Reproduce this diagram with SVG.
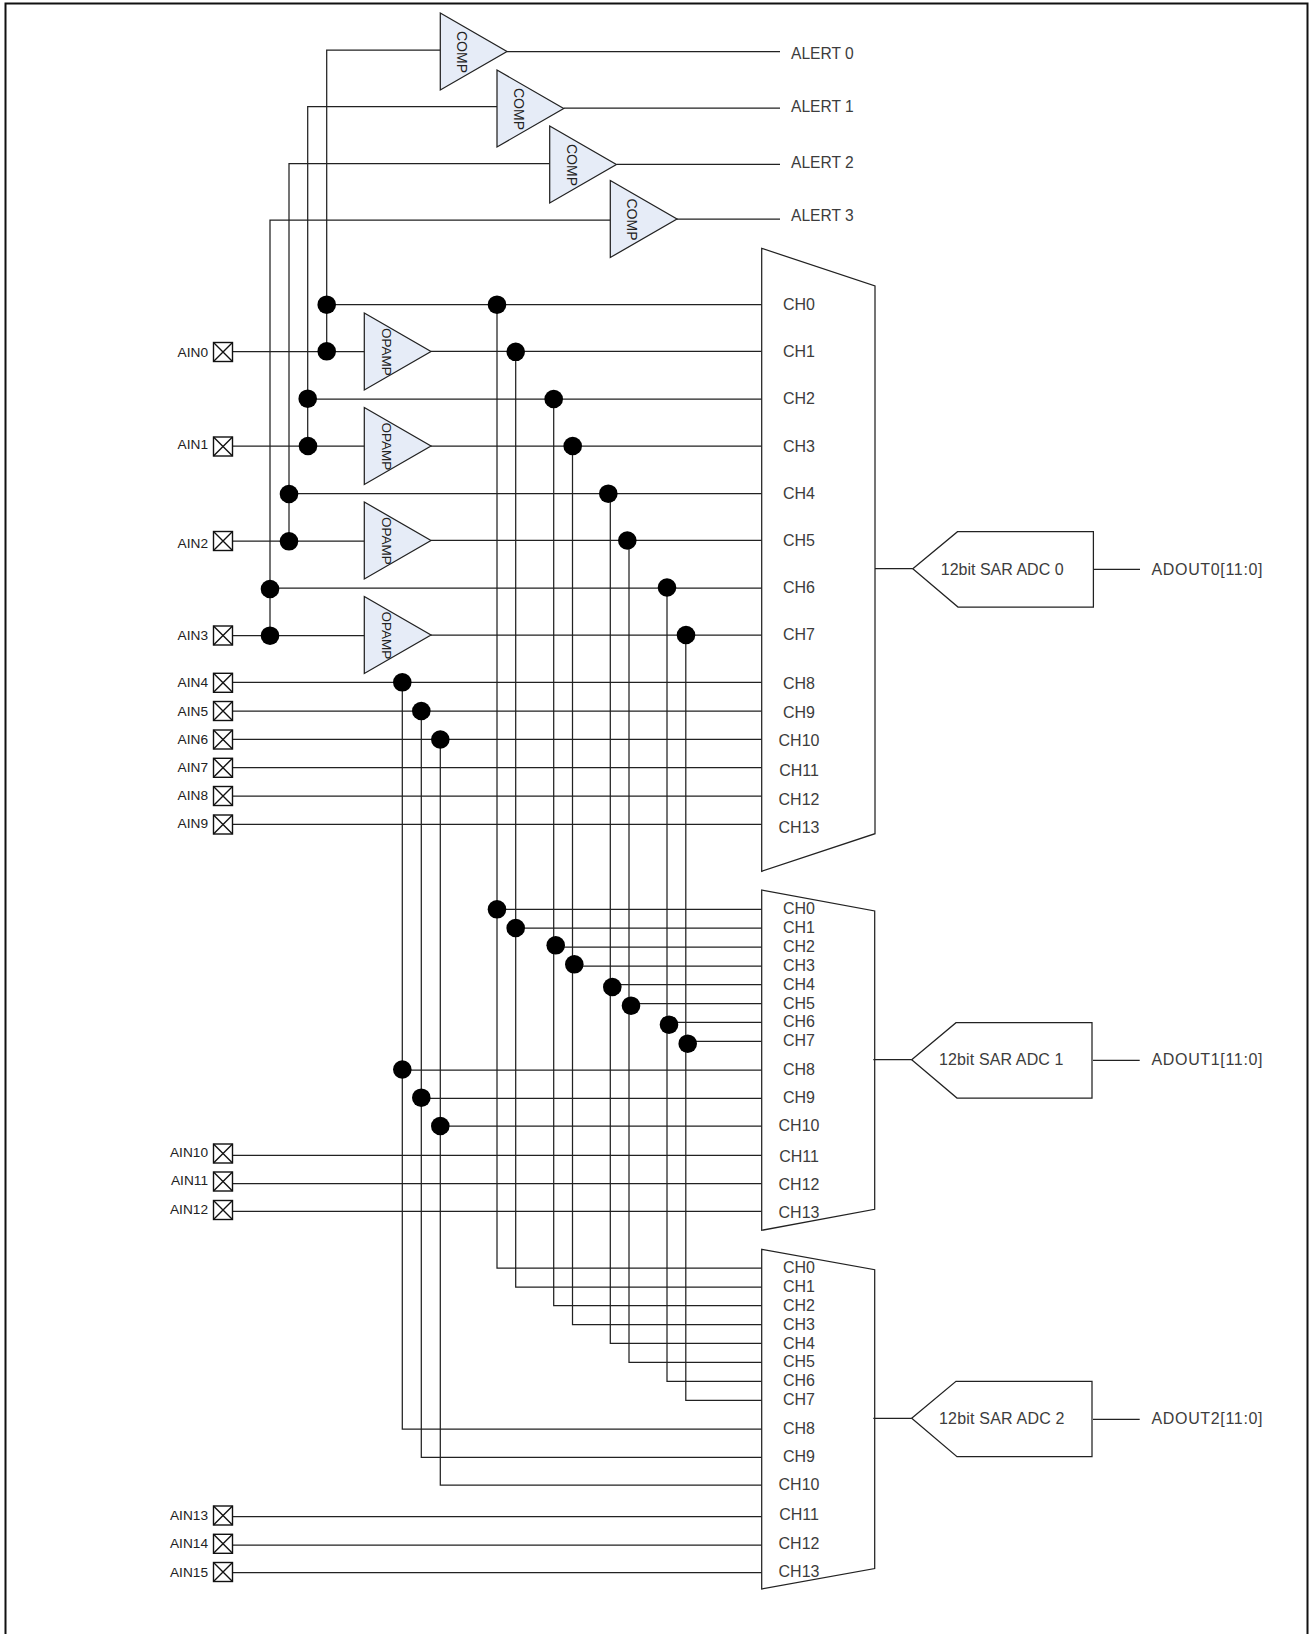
<svg xmlns="http://www.w3.org/2000/svg" width="1309" height="1634" viewBox="0 0 1309 1634">
<style>
text{font-family:"Liberation Sans",Arial,sans-serif}
.w{fill:none;stroke:#222;stroke-width:1.25}
.t{fill:#e6ecf7;stroke:#222;stroke-width:1.25}
.x{fill:#fff;stroke:#111;stroke-width:1.4}
.ain{font-size:13.7px;fill:#222;text-anchor:end}
.rot{font-size:14px;fill:#222}
.rop{font-size:13.5px;fill:#222}
.ch{font-size:16px;fill:#3c3c3c;text-anchor:middle}
.lab{font-size:15.6px;fill:#3c3c3c}
.adc{font-size:16px;fill:#3c3c3c}
</style>
<defs>
<g id="pad"><rect class="x" x="-9.5" y="-9.5" width="19" height="19"/><path class="x" d="M-9.5-9.5L9.5 9.5M-9.5 9.5L9.5-9.5"/></g>
<path id="tri" class="t" d="M0 0L66.7 38.5L0 77Z"/>
</defs>
<rect id="frame" x="5.5" y="3.5" width="1302" height="1640" fill="#fff" stroke="#111" stroke-width="2"/>
<g id="connectors">
<path class="w" d="M440.3 50H326.7V351.3M497 106.7H307.7V446M549.7 163.5H289V541M610.3 220H270V635.7"/>
<path class="w" d="M507 51.5H780M563.7 108H780M616.7 164.3H780M676.7 219H780"/>
<path class="w" d="M326.7 304.7H761.7M307.7 399H761.7M289 493.5H761.7M270 588H761.7"/>
<path class="w" d="M232.5 351.5H364.3M232.5 446H364.3M232.5 541H364.3M232.5 635.5H364.3"/>
<path class="w" d="M431 351.3H761.7M431 446H761.7M431 540.4H761.7M431 635H761.7"/>
<path class="w" d="M232.5 682.3H761.7M232.5 711H761.7M232.5 739.3H761.7M232.5 767.7H761.7M232.5 796H761.7M232.5 824.3H761.7"/>
<path class="w" d="M497 304.7V1268H761.7M515.7 351.3V1287H761.7M553.7 399V1305.7H761.7M572.5 446V1324.7H761.7M610.3 493.5V1343.3H761.7M629 540.4V1362.3H761.7M667 588V1381.3H761.7M685.8 635V1400.3H761.7"/>
<path class="w" d="M497 909.3H761.7M515.7 928H761.7M555.7 947H761.7M574.3 966H761.7M612.3 984.7H761.7M631 1003.7H761.7M669 1022.3H761.7M687.7 1041.3H761.7"/>
<path class="w" d="M402.3 682.3V1429H761.7M421.3 711V1457.3H761.7M440.3 739.3V1485H761.7"/>
<path class="w" d="M402.3 1070H761.7M421.3 1098.3H761.7M440.3 1126H761.7"/>
<path class="w" d="M232.5 1155.3H761.7M232.5 1183.7H761.7M232.5 1211.3H761.7"/>
<path class="w" d="M232.5 1516.7H761.7M232.5 1545H761.7M232.5 1572.7H761.7"/>
<path class="w" d="M875 568.7H912.8M1093.4 569.3H1140M873.3 1059.7H911.7M1093 1060.3H1139.7M873.3 1418.3H911.7M1093 1419.3H1139.7"/>
<g id="junctions" fill="#000">
<circle cx="326.7" cy="304.7" r="9.3"/><circle cx="497" cy="304.7" r="9.3"/>
<circle cx="326.7" cy="351.3" r="9.3"/><circle cx="515.7" cy="351.8" r="9.3"/>
<circle cx="307.7" cy="398.7" r="9.3"/><circle cx="553.7" cy="399" r="9.3"/>
<circle cx="308" cy="446" r="9.3"/><circle cx="572.7" cy="446" r="9.3"/>
<circle cx="289" cy="494" r="9.3"/><circle cx="608.3" cy="493.7" r="9.3"/>
<circle cx="289" cy="541.3" r="9.3"/><circle cx="627.3" cy="540.5" r="9.3"/>
<circle cx="270" cy="589" r="9.3"/><circle cx="667" cy="587.5" r="9.3"/>
<circle cx="270" cy="635.7" r="9.3"/><circle cx="686" cy="635" r="9.3"/>
<circle cx="402.3" cy="682.3" r="9.3"/><circle cx="421.3" cy="711" r="9.3"/><circle cx="440.3" cy="739.5" r="9.3"/>
<circle cx="497" cy="909.3" r="9.3"/><circle cx="515.7" cy="928" r="9.3"/><circle cx="555.7" cy="945.3" r="9.3"/><circle cx="574.3" cy="964.3" r="9.3"/>
<circle cx="612.3" cy="987" r="9.3"/><circle cx="631" cy="1005.7" r="9.3"/><circle cx="669" cy="1024.7" r="9.3"/><circle cx="687.7" cy="1043.7" r="9.3"/>
<circle cx="402.3" cy="1069.5" r="9.3"/><circle cx="421.3" cy="1097.7" r="9.3"/><circle cx="440.3" cy="1126" r="9.3"/>
</g>
</g>
<g id="comp0"><use href="#tri" x="440.3" y="13"/><text class="rot" transform="translate(457.3 31) rotate(90)">COMP</text></g>
<g id="comp1"><use href="#tri" x="497" y="70"/><text class="rot" transform="translate(514 88) rotate(90)">COMP</text></g>
<g id="comp2"><use href="#tri" x="549.7" y="126"/><text class="rot" transform="translate(566.7 144) rotate(90)">COMP</text></g>
<g id="comp3"><use href="#tri" x="610.3" y="180.5"/><text class="rot" transform="translate(627.3 198.5) rotate(90)">COMP</text></g>
<g id="opamp0"><use href="#tri" x="364.3" y="313"/><text class="rop" transform="translate(381.7 328) rotate(90)">OPAMP</text></g>
<g id="opamp1"><use href="#tri" x="364.3" y="407.5"/><text class="rop" transform="translate(381.7 422.5) rotate(90)">OPAMP</text></g>
<g id="opamp2"><use href="#tri" x="364.3" y="502"/><text class="rop" transform="translate(381.7 517) rotate(90)">OPAMP</text></g>
<g id="opamp3"><use href="#tri" x="364.3" y="596.5"/><text class="rop" transform="translate(381.7 611.5) rotate(90)">OPAMP</text></g>
<g id="alerts">
<text class="lab" x="791" y="59">ALERT 0</text>
<text class="lab" x="791" y="112">ALERT 1</text>
<text class="lab" x="791" y="168">ALERT 2</text>
<text class="lab" x="791" y="221">ALERT 3</text>
</g>
<g id="pin0"><use href="#pad" x="223" y="352"/><text class="ain" x="208" y="356.5">AIN0</text></g>
<g id="pin1"><use href="#pad" x="223" y="446.5"/><text class="ain" x="208" y="449">AIN1</text></g>
<g id="pin2"><use href="#pad" x="223" y="541"/><text class="ain" x="208" y="548">AIN2</text></g>
<g id="pin3"><use href="#pad" x="223" y="635.5"/><text class="ain" x="208" y="640">AIN3</text></g>
<g id="pin4"><use href="#pad" x="223" y="682.8"/><text class="ain" x="208" y="687">AIN4</text></g>
<g id="pin5"><use href="#pad" x="223" y="711"/><text class="ain" x="208" y="715.5">AIN5</text></g>
<g id="pin6"><use href="#pad" x="223" y="739.5"/><text class="ain" x="208" y="743.5">AIN6</text></g>
<g id="pin7"><use href="#pad" x="223" y="767.8"/><text class="ain" x="208" y="772">AIN7</text></g>
<g id="pin8"><use href="#pad" x="223" y="796"/><text class="ain" x="208" y="800">AIN8</text></g>
<g id="pin9"><use href="#pad" x="223" y="824.5"/><text class="ain" x="208" y="828">AIN9</text></g>
<g id="pin10"><use href="#pad" x="223" y="1153.5"/><text class="ain" x="208" y="1157">AIN10</text></g>
<g id="pin11"><use href="#pad" x="223" y="1181.5"/><text class="ain" x="208" y="1185">AIN11</text></g>
<g id="pin12"><use href="#pad" x="223" y="1210"/><text class="ain" x="208" y="1213.5">AIN12</text></g>
<g id="pin13"><use href="#pad" x="223" y="1515.5"/><text class="ain" x="208" y="1520">AIN13</text></g>
<g id="pin14"><use href="#pad" x="223" y="1543.8"/><text class="ain" x="208" y="1548.3">AIN14</text></g>
<g id="pin15"><use href="#pad" x="223" y="1572"/><text class="ain" x="208" y="1576.5">AIN15</text></g>
<g id="mux0">
<path class="w" d="M761.7 248.3L875 286V833.7L761.7 871.3Z"/>
<text class="ch" x="799" y="310">CH0</text><text class="ch" x="799" y="357">CH1</text><text class="ch" x="799" y="404">CH2</text><text class="ch" x="799" y="451.5">CH3</text><text class="ch" x="799" y="499">CH4</text><text class="ch" x="799" y="546">CH5</text><text class="ch" x="799" y="593">CH6</text><text class="ch" x="799" y="640">CH7</text><text class="ch" x="799" y="689">CH8</text><text class="ch" x="799" y="718">CH9</text><text class="ch" x="799" y="746">CH10</text><text class="ch" x="799" y="776">CH11</text><text class="ch" x="799" y="805">CH12</text><text class="ch" x="799" y="833">CH13</text>
</g>
<g id="mux1">
<path class="w" d="M761.7 890L874.7 911V1209.3L761.7 1230.3Z"/>
<text class="ch" x="799" y="914">CH0</text><text class="ch" x="799" y="933">CH1</text><text class="ch" x="799" y="952">CH2</text><text class="ch" x="799" y="971">CH3</text><text class="ch" x="799" y="990">CH4</text><text class="ch" x="799" y="1009">CH5</text><text class="ch" x="799" y="1027">CH6</text><text class="ch" x="799" y="1045.7">CH7</text><text class="ch" x="799" y="1075">CH8</text><text class="ch" x="799" y="1103">CH9</text><text class="ch" x="799" y="1131">CH10</text><text class="ch" x="799" y="1162">CH11</text><text class="ch" x="799" y="1190">CH12</text><text class="ch" x="799" y="1218">CH13</text>
</g>
<g id="mux2">
<path class="w" d="M761.7 1249.3L874.7 1269.7V1568.5L761.7 1589Z"/>
<text class="ch" x="799" y="1273">CH0</text><text class="ch" x="799" y="1292">CH1</text><text class="ch" x="799" y="1311">CH2</text><text class="ch" x="799" y="1330">CH3</text><text class="ch" x="799" y="1349">CH4</text><text class="ch" x="799" y="1367">CH5</text><text class="ch" x="799" y="1386">CH6</text><text class="ch" x="799" y="1405">CH7</text><text class="ch" x="799" y="1434">CH8</text><text class="ch" x="799" y="1462">CH9</text><text class="ch" x="799" y="1490">CH10</text><text class="ch" x="799" y="1520">CH11</text><text class="ch" x="799" y="1549">CH12</text><text class="ch" x="799" y="1577">CH13</text>
</g>
<g id="adc0"><path class="w" d="M912.8 568.7L957.5 531.7H1093.4V607H958Z"/><text class="adc" x="940.8" y="574.7">12bit SAR ADC 0</text></g>
<g id="adc1"><path class="w" d="M911.7 1059.7L956 1022.7H1092V1098H957Z"/><text class="adc" x="939" y="1065.3" textLength="124.5">12bit SAR ADC 1</text></g>
<g id="adc2"><path class="w" d="M911.7 1418.3L956 1381.3H1092V1456.7H957Z"/><text class="adc" x="939" y="1424" textLength="125.5">12bit SAR ADC 2</text></g>
<g id="outputs">
<text class="adc" x="1151.5" y="574.7" textLength="111">ADOUT0[11:0]</text>
<text class="adc" x="1151.5" y="1065.3" textLength="111">ADOUT1[11:0]</text>
<text class="adc" x="1151.5" y="1424" textLength="111">ADOUT2[11:0]</text>
</g>
</svg>
